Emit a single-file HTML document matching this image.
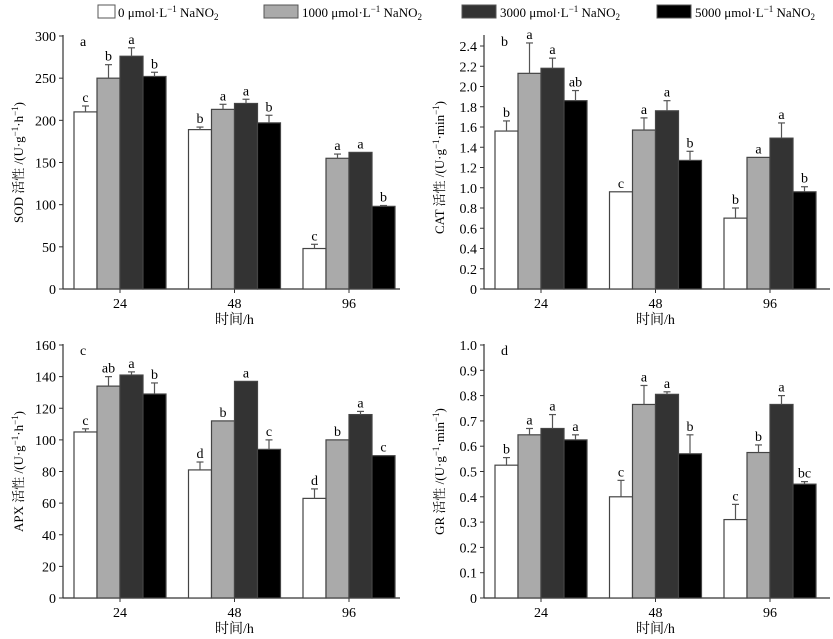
<!DOCTYPE html>
<html><head><meta charset="utf-8"><style>
html,body{margin:0;padding:0;background:#fff;width:833px;height:639px;overflow:hidden}
svg{display:block;font-family:"Liberation Serif","Noto Serif CJK SC",serif}
</style></head><body>
<svg id="c" width="833" height="639" viewBox="0 0 833 639">
<g>
 <rect x="98" y="5" width="17" height="13" fill="#fff" stroke="#555"/>
 <text x="118" y="17" font-size="13">0 μmol·L<tspan dy="-5" font-size="9">−1</tspan><tspan dy="5"> NaNO</tspan><tspan dy="3" font-size="9">2</tspan></text>
 <rect x="264" y="5" width="34" height="13" fill="#aaa" stroke="#555"/>
 <text x="302" y="17" font-size="13">1000 μmol·L<tspan dy="-5" font-size="9">−1</tspan><tspan dy="5"> NaNO</tspan><tspan dy="3" font-size="9">2</tspan></text>
 <rect x="462" y="5" width="34" height="13" fill="#333" stroke="#555"/>
 <text x="500" y="17" font-size="13">3000 μmol·L<tspan dy="-5" font-size="9">−1</tspan><tspan dy="5"> NaNO</tspan><tspan dy="3" font-size="9">2</tspan></text>
 <rect x="657" y="5" width="34" height="13" fill="#000" stroke="#555"/>
 <text x="695" y="17" font-size="13">5000 μmol·L<tspan dy="-5" font-size="9">−1</tspan><tspan dy="5"> NaNO</tspan><tspan dy="3" font-size="9">2</tspan></text>
</g>
</svg>
<script>
const categories = ["24","48","96"];
const fills = ["#fff","#aaa","#333","#000"];
const sodValues = [[210,250,276,252],[189,213,220,197],[48,155,162,98]];
const sodErrors = [[7,16,10,5],[3,6,5,9],[5,5,0,1]];
const sodLetters = [["c","b","a","b"],["b","a","a","b"],["c","a","a","b"]];
const sodTicks = [0,50,100,150,200,250,300];
const catValues = [[1.56,2.13,2.18,1.86],[0.96,1.57,1.76,1.27],[0.70,1.30,1.49,0.96]];
const catErrors = [[0.1,0.3,0.1,0.1],[0,0.12,0.1,0.09],[0.1,0,0.15,0.05]];
const catLetters = [["b","a","a","ab"],["c","a","a","b"],["b","a","a","b"]];
const catTicks = [0,0.2,0.4,0.6,0.8,1.0,1.2,1.4,1.6,1.8,2.0,2.2,2.4];
const apxValues = [[105,134,141,129],[81,112,137,94],[63,100,116,90]];
const apxErrors = [[2,6,2,7],[5,0,0,6],[6,0,2,0]];
const apxLetters = [["c","ab","a","b"],["d","b","a","c"],["d","b","a","c"]];
const apxTicks = [0,20,40,60,80,100,120,140,160];
const grValues = [[0.525,0.645,0.67,0.625],[0.40,0.765,0.805,0.57],[0.31,0.575,0.765,0.45]];
const grErrors = [[0.03,0.025,0.055,0.02],[0.065,0.075,0.01,0.075],[0.06,0.03,0.035,0.01]];
const grLetters = [["b","a","a","a"],["c","a","a","b"],["c","b","a","bc"]];
const grTicks = [0,0.1,0.2,0.3,0.4,0.5,0.6,0.7,0.8,0.9,1.0];

const svg = document.getElementById('c');
const NS = "http://www.w3.org/2000/svg";
function mk(tag, attrs, parent){const e=document.createElementNS(NS,tag);for(const k in attrs)e.setAttribute(k,attrs[k]);(parent||svg).appendChild(e);return e;}

function panel(o){
  const g = mk('g',{});
  
  
  const y = v => o.y0 - (v/o.max)*(o.y0-o.yTop);
  const x = (gi,bi) => o.ax + 11 + gi*114.5 + bi*23;
  const ya = mk('line',{x1:o.ax,y1:o.y0,x2:o.ax,y2:o.axTop,stroke:'#333','stroke-width':1.2},g);
  
  
  const xa = mk('line',{x1:o.ax,y1:o.y0,x2:o.axEnd,y2:o.y0,stroke:'#333','stroke-width':1.2},g);
  
  
  o.ticks.forEach(t=>{
    mk('line',{x1:o.ax-4,y1:y(t),x2:o.ax,y2:y(t),stroke:'#333'},g);
    const tx = mk('text',{x:o.ax-7,y:y(t)+5,'font-size':14,'text-anchor':'end'},g);
    tx.textContent = o.fmt(t);
    
    
  });
  categories.forEach((c,gi)=>{
    const cx = x(gi,2);
    mk('line',{x1:cx,y1:o.y0,x2:cx,y2:o.y0+4,stroke:'#333'},g);
    const tl = mk('text',{x:cx,y:o.y0+19,'font-size':14,'text-anchor':'middle'},g);
    tl.textContent = c;
    
    
    o.vals[gi].forEach((v,bi)=>{
      const bx = x(gi,bi), by = y(v);
      const r = mk('rect',{x:bx,y:by,width:23,height:o.y0-by,fill:fills[bi],stroke:'#444','stroke-width':1.2},g);
      
      
      const e = o.errs[gi][bi];
      const ey = y(v+e);
      if(e>0){
        mk('line',{x1:bx+11.5,y1:by,x2:bx+11.5,y2:ey,stroke:'#555','stroke-width':1.2},g);
        mk('line',{x1:bx+8,y1:ey,x2:bx+15,y2:ey,stroke:'#555','stroke-width':1.2},g);
      }
      const lt = mk('text',{x:bx+11.5,y:ey-4,'font-size':14,'text-anchor':'middle'},g);
      lt.textContent = o.letters[gi][bi];
      
      
    });
  });
  const xt = mk('text',{x:x(1,2),y:o.y0+35,'font-size':14,'text-anchor':'middle'},g);
  xt.textContent = '时间/h';
  
  
  const yt = mk('text',{x:0,y:0,'font-size':13,'text-anchor':'middle',transform:`translate(${o.ax-40},${(o.y0+o.yTop)/2}) rotate(-90)`},g);
  yt.innerHTML = o.ylabel;
  
  
  const pl = mk('text',{x:o.ax+17,y:o.tagY,'font-size':14},g);
  pl.textContent = o.tag;
  
  
}
const sup = s => `<tspan dy="-5" font-size="9">${s}</tspan><tspan dy="5">`;
panel({name:'sod',ax:63,axEnd:400,y0:289,yTop:36,axTop:35,tagY:46,max:300,ticks:sodTicks,fmt:t=>String(t),vals:sodValues,errs:sodErrors,letters:sodLetters,tag:'a',
  ylabel:'SOD 活性 /(U·g'+sup('−1')+'·h'+sup('−1')+')</tspan></tspan>'});
panel({name:'cat',ax:484,axEnd:830,y0:289,yTop:46,axTop:35,tagY:46,max:2.4,ticks:catTicks,fmt:t=>t===0?'0':t.toFixed(1),vals:catValues,errs:catErrors,letters:catLetters,tag:'b',
  ylabel:'CAT 活性 /(U·g'+sup('−1')+'·min'+sup('−1')+')</tspan></tspan>'});
panel({name:'apx',ax:63,axEnd:400,y0:598,yTop:345,axTop:344,tagY:355,max:160,ticks:apxTicks,fmt:t=>String(t),vals:apxValues,errs:apxErrors,letters:apxLetters,tag:'c',
  ylabel:'APX 活性 /(U·g'+sup('−1')+'·h'+sup('−1')+')</tspan></tspan>'});
panel({name:'gr',ax:484,axEnd:830,y0:598,yTop:345,axTop:344,tagY:355,max:1.0,ticks:grTicks,fmt:t=>t===0?'0':t.toFixed(1),vals:grValues,errs:grErrors,letters:grLetters,tag:'d',
  ylabel:'GR 活性 /(U·g'+sup('−1')+'·min'+sup('−1')+')</tspan></tspan>'});
</script>
</body></html>
